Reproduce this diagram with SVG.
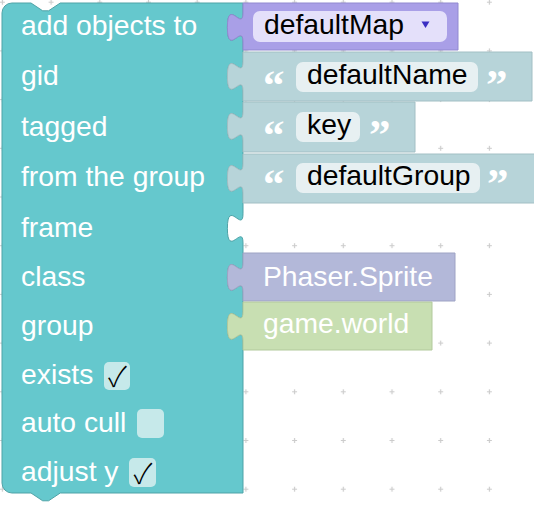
<svg xmlns="http://www.w3.org/2000/svg" width="534" height="507" viewBox="0 0 534 507">
<style>
.lbl{font-family:"Liberation Sans",Arial,sans-serif;font-size:28.3px;fill:#ffffff}
.fld{font-family:"Liberation Sans",Arial,sans-serif;font-size:28.3px;fill:#000000}
.q{font-family:"Liberation Serif","Times New Roman",serif;font-size:43px;font-weight:bold;fill:#ffffff}
.chk{font-family:"Noto Sans CJK JP","DejaVu Sans",sans-serif;font-size:28px;font-weight:300;fill:#000000;text-anchor:middle}
.cb{fill:#c6e9ea}
.sfield{fill:#e7f0f2}
</style>
<defs>
<pattern id="grid" patternUnits="userSpaceOnUse" x="-21.95" y="-22.15" width="48.7" height="48.7">
<path d="M21.85,24.35 h5 M24.35,21.85 v5" stroke="#cccccc" stroke-width="1.2" fill="none"/>
</pattern>
</defs>
<rect width="534" height="507" fill="#ffffff"/>
<rect width="534" height="507" fill="url(#grid)"/>

<g id="main-block">
<path d="M2,13 A10,10 0 0 1 12,3 H31 l11.7,7.8 h5.85 l11.7,-7.8 H243 V12.75 c0,19.5 -15.6,-15.6 -15.6,14.6 s15.6,-4.9 15.6,14.6 V61.75 c0,19.5 -15.6,-15.6 -15.6,14.6 s15.6,-4.9 15.6,14.6 V111.75 c0,19.5 -15.6,-15.6 -15.6,14.6 s15.6,-4.9 15.6,14.6 V163.75 c0,19.5 -15.6,-15.6 -15.6,14.6 s15.6,-4.9 15.6,14.6 V213.75 c0,19.5 -15.6,-15.6 -15.6,14.6 s15.6,-4.9 15.6,14.6 V262.75 c0,19.5 -15.6,-15.6 -15.6,14.6 s15.6,-4.9 15.6,14.6 V311.75 c0,19.5 -15.6,-15.6 -15.6,14.6 s15.6,-4.9 15.6,14.6 V493 H60.25 l-11.7,7.8 h-5.85 l-11.7,-7.8 H12 A10,10 0 0 1 2,483 Z" fill="#65c8cd" stroke="#4fa3a7" stroke-width="1"/>
<text class="lbl" x="21" y="35">add objects to</text>
<text class="lbl" x="21" y="85">gid</text>
<text class="lbl" x="21" y="136">tagged</text>
<text class="lbl" x="21" y="186">from the group</text>
<text class="lbl" x="21" y="237">frame</text>
<text class="lbl" x="21" y="286">class</text>
<text class="lbl" x="21" y="335">group</text>
<text class="lbl" x="21" y="384">exists</text>
<text class="lbl" x="21" y="432">auto cull</text>
<text class="lbl" x="21" y="481">adjust y</text>
<rect class="cb" x="104" y="362" width="26" height="28" rx="5"/>
<text class="chk" x="117.5" y="387">✓</text>
<rect class="cb" x="137" y="409" width="27" height="29" rx="5"/>
<rect class="cb" x="129" y="458" width="27" height="29" rx="5"/>
<text class="chk" x="143" y="484">✓</text>
</g>

<g id="map-block">
<path d="M243,3 H458 V50 H243 V41.95 c0,-19.5 -15.6,15.6 -15.6,-14.6 s15.6,4.9 15.6,-14.6 Z" fill="#a99fe7" stroke="#9189d0" stroke-width="1"/>
<rect x="253" y="11" width="194" height="31" rx="7" fill="#e4e0fa"/>
<text class="fld" x="264" y="34">defaultMap</text>
<path d="M421.5,21.5 h8 l-4,6.5 Z" fill="#3b2fc2"/>
</g>

<g id="name-block">
<path d="M243,52 H532 V101 H243 V90.95 c0,-19.5 -15.6,15.6 -15.6,-14.6 s15.6,4.9 15.6,-14.6 Z" fill="#b7d4d9" stroke="#a2bfc4" stroke-width="1"/>
<text class="q" x="263" y="99">“</text>
<rect class="sfield" x="296" y="62" width="182" height="30" rx="7"/>
<text class="fld" x="307" y="84">defaultName</text>
<text class="q" x="486" y="99">”</text>
</g>

<g id="key-block">
<path d="M243,102 H415 V152 H243 V140.95 c0,-19.5 -15.6,15.6 -15.6,-14.6 s15.6,4.9 15.6,-14.6 Z" fill="#b7d4d9" stroke="#a2bfc4" stroke-width="1"/>
<text class="q" x="263" y="149">“</text>
<rect class="sfield" x="296" y="112" width="64" height="30" rx="7"/>
<text class="fld" x="307" y="134">key</text>
<text class="q" x="369" y="149">”</text>
</g>

<g id="group-block">
<path d="M243,154 H536 V203 H243 V192.95 c0,-19.5 -15.6,15.6 -15.6,-14.6 s15.6,4.9 15.6,-14.6 Z" fill="#b7d4d9" stroke="#a2bfc4" stroke-width="1"/>
<text class="q" x="263" y="198">“</text>
<rect class="sfield" x="296" y="163" width="184" height="30" rx="7"/>
<text class="fld" x="307" y="185">defaultGroup</text>
<text class="q" x="487" y="198">”</text>
</g>

<g id="sprite-block">
<path d="M243,253 H455 V301 H243 V291.95 c0,-19.5 -15.6,15.6 -15.6,-14.6 s15.6,4.9 15.6,-14.6 Z" fill="#b3b8d9" stroke="#9ea3c4" stroke-width="1"/>
<text class="lbl" x="263" y="286">Phaser.Sprite</text>
</g>

<g id="world-block">
<path d="M243,302 H432 V350 H243 V340.95 c0,-19.5 -15.6,15.6 -15.6,-14.6 s15.6,4.9 15.6,-14.6 Z" fill="#c8dfb2" stroke="#b2c99c" stroke-width="1"/>
<text class="lbl" x="263" y="333">game.world</text>
</g>

<g id="connectors"></g>
</svg>
